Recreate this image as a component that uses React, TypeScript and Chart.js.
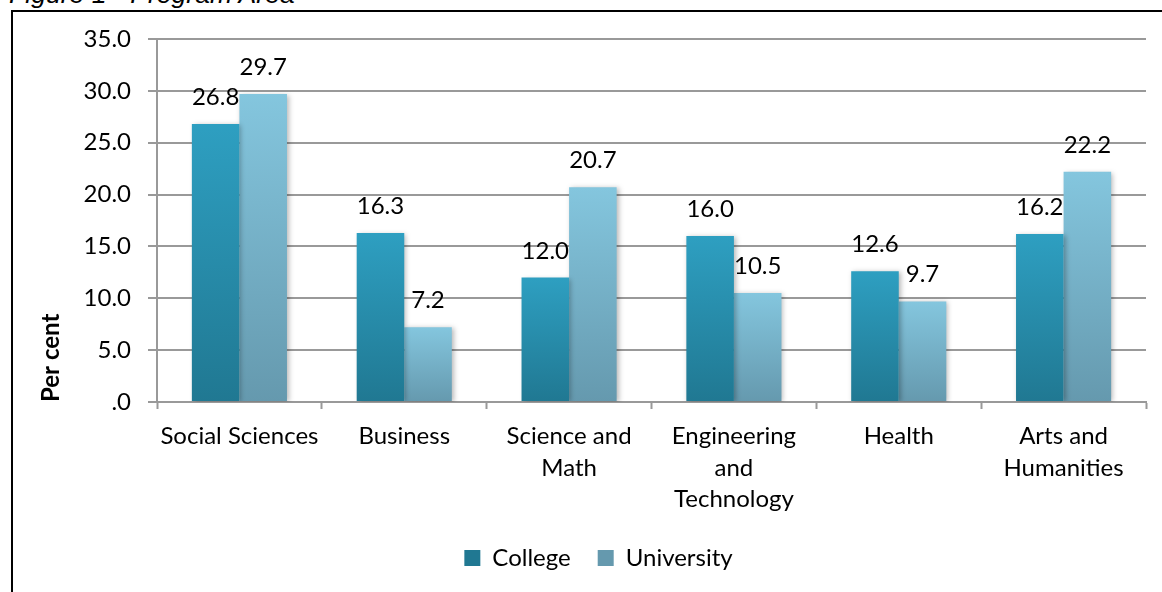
import React, { useEffect, useRef } from 'react';
import { Chart, registerables } from 'chart.js';

Chart.register(...registerables);

// ---- data ----
const categories: string[][] = [
  ['Social Sciences'],
  ['Business'],
  ['Science and', 'Math'],
  ['Engineering', 'and', 'Technology'],
  ['Health'],
  ['Arts and', 'Humanities'],
];
const seriesNames = ['College', 'University'];
const collegeValues = [26.8, 16.3, 12.0, 16.0, 12.6, 16.2];
const universityValues = [29.7, 7.2, 20.7, 10.5, 9.7, 22.2];
const yTickLabels = ['.0', '5.0', '10.0', '15.0', '20.0', '25.0', '30.0', '35.0'];
const yAxisTitle = 'Per cent';
const figureTitle = 'Figure 1 - Program Area';

// ---- style ----
const FONT = 'Lato, "Open Sans", sans-serif';
const FS = 24;
const GRID = '#999999';
const LEGEND_PAD = 27;
const LAYOUT_LEFT = 51;
const TITLE_CENTER_X = 51;

function barFill(top: string, bottom: string, solid: string) {
  return (ctx: any) => {
    const chart = ctx.chart;
    const y = chart && chart.scales ? chart.scales.y : null;
    if (ctx.type !== 'data' || !y || !chart.chartArea || !ctx.parsed) return solid;
    const yTop = y.getPixelForValue(ctx.parsed.y);
    const yBot = y.getPixelForValue(0);
    if (!isFinite(yTop) || !isFinite(yBot) || yTop === yBot) return solid;
    const g = chart.ctx.createLinearGradient(0, yTop, 0, yBot);
    g.addColorStop(0, top);
    g.addColorStop(1, bottom);
    return g;
  };
}

const barEffects = {
  id: 'barEffects',
  beforeDatasetsDraw(chart: any) {
    const ctx = chart.ctx;
    ctx.save();
    ctx.shadowColor = 'rgba(0,0,0,0.28)';
    ctx.shadowBlur = 5;
    ctx.shadowOffsetX = 2;
    ctx.shadowOffsetY = 1;
  },
  afterDatasetsDraw(chart: any) {
    const ctx = chart.ctx;
    ctx.restore();
    ctx.save();
    ctx.font = `${FS}px ${FONT}`;
    ctx.fillStyle = '#000';
    ctx.textAlign = 'center';
    ctx.textBaseline = 'alphabetic';
    chart.data.datasets.forEach((ds: any, di: number) => {
      const meta = chart.getDatasetMeta(di);
      meta.data.forEach((bar: any, i: number) => {
        const v = ds.data[i];
        ctx.fillText(Number(v).toFixed(1), bar.x, bar.y - 19);
      });
    });
    ctx.restore();
  },
};

export default function App() {
  const ref = useRef<HTMLCanvasElement | null>(null);

  useEffect(() => {
    if (!ref.current) return;
    const titleLineHeight = FS * 1.2;
    const chart = new Chart(ref.current, {
      type: 'bar',
      data: {
        labels: categories,
        datasets: [
          {
            label: seriesNames[0],
            data: collegeValues,
            backgroundColor: barFill('#2e9fc1', '#207892', '#278cab'),
            borderWidth: 0,
            categoryPercentage: 0.577,
            barPercentage: 1,
          },
          {
            label: seriesNames[1],
            data: universityValues,
            backgroundColor: barFill('#84c6de', '#6599ae', '#75b0c6'),
            borderWidth: 0,
            categoryPercentage: 0.577,
            barPercentage: 1,
          },
        ],
      },
      options: {
        responsive: false,
        animation: false,
        devicePixelRatio: 1,
        layout: { padding: { left: LAYOUT_LEFT, top: 39, right: 16, bottom: 12 } },
        plugins: {
          legend: {
            position: 'bottom',
            labels: {
              boxWidth: 16,
              boxHeight: 16,
              padding: LEGEND_PAD,
              color: '#000',
              font: { family: FONT, size: FS },
            },
          },
          tooltip: { enabled: false },
          title: { display: false },
        },
        scales: {
          x: {
            offset: true,
            grid: {
              offset: true,
              drawOnChartArea: false,
              drawTicks: true,
              tickLength: 7,
              tickColor: GRID,
              tickWidth: 2,
            },
            border: { display: true, color: GRID, width: 2 },
            ticks: {
              color: '#000',
              padding: 12,
              maxRotation: 0,
              autoSkip: false,
              font: { family: FONT, size: FS, lineHeight: 1.3125 },
            },
            afterFit: (scale: any) => {
              scale.height = 117;
            },
          },
          y: {
            min: 0,
            max: 35,
            ticks: {
              stepSize: 5,
              color: '#000',
              padding: 17,
              font: { family: FONT, size: FS },
              callback: (_v: any, i: number) => yTickLabels[i],
            },
            grid: {
              color: GRID,
              lineWidth: 2,
              drawTicks: true,
              tickLength: 9,
              tickColor: GRID,
            },
            border: { display: true, color: GRID, width: 2 },
            title: {
              display: true,
              text: yAxisTitle,
              align: 'start',
              color: '#000',
              padding: { top: TITLE_CENTER_X - LAYOUT_LEFT - titleLineHeight / 2, bottom: 4 },
              font: { family: FONT, size: FS, weight: 'bold' },
            },
            afterFit: (scale: any) => {
              scale.width = 157 - LAYOUT_LEFT;
            },
          },
        },
      },
      plugins: [barEffects],
    } as any);
    return () => chart.destroy();
  }, []);

  return (
    <div style={{ position: 'fixed', left: 0, top: 0, width: '100vw', height: '100vh', overflow: 'hidden', background: '#fff' }}>
      <div
        style={{
          position: 'absolute',
          left: 11,
          top: 10,
          width: 3000,
          height: 3000,
          borderLeft: '2px solid #000',
          borderTop: '2px solid #000',
        }}
      />
      <div
        style={{
          position: 'absolute',
          left: 9,
          top: -19,
          fontFamily: '"Liberation Sans", Arial, sans-serif',
          fontStyle: 'italic',
          fontSize: '26.6px',
          lineHeight: 1,
          whiteSpace: 'nowrap',
          color: '#000',
        }}
      >
        {figureTitle}
      </div>
      <canvas ref={ref} width={1162} height={592} style={{ position: 'absolute', left: 0, top: 0, width: 1162, height: 592 }} />
    </div>
  );
}
